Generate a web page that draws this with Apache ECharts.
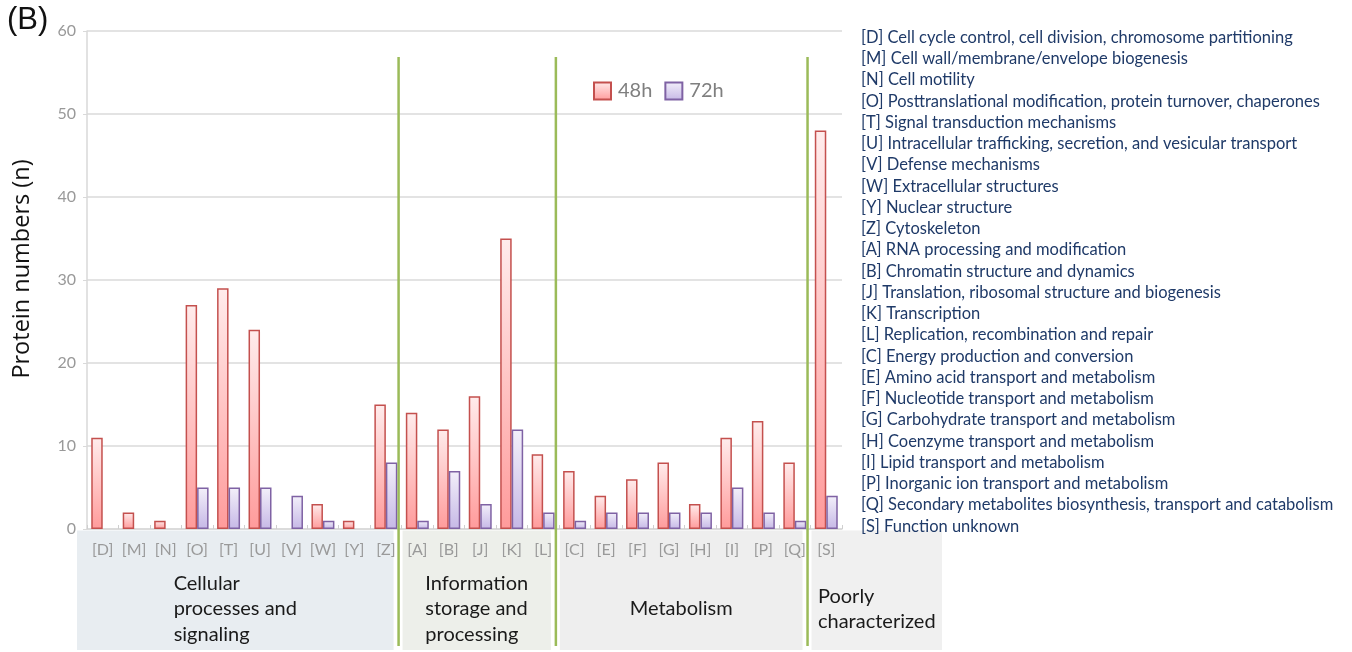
<!DOCTYPE html>
<html>
<head>
<meta charset="utf-8">
<script src="https://cdn.jsdelivr.net/npm/echarts@6/dist/echarts.min.js"></script>
<style>html,body{margin:0;padding:0;background:#fff;}#c{width:1352px;height:652px;}</style>
</head>
<body>
<div id="c"></div>
<script>
// ---- data ----
const categories = ['[D]','[M]','[N]','[O]','[T]','[U]','[V]','[W]','[Y]','[Z]','[A]','[B]','[J]','[K]','[L]','[C]','[E]','[F]','[G]','[H]','[I]','[P]','[Q]','[S]'];
const values48h = [11,2,1,27,29,24,0,3,1,15,14,12,16,35,9,7,4,6,8,3,11,13,8,48];
const values72h = [0,0,0,5,5,5,4,1,0,8,1,7,3,12,2,1,2,2,2,2,5,2,1,4];
const seriesNames = ['48h','72h'];
const yAxisTitle = 'Protein numbers (n)';
const descriptions = [
  '[D] Cell cycle control, cell division, chromosome partitioning',
  '[M] Cell wall/membrane/envelope biogenesis',
  '[N] Cell motility',
  '[O] Posttranslational modification, protein turnover, chaperones',
  '[T] Signal transduction mechanisms',
  '[U] Intracellular trafficking, secretion, and vesicular transport',
  '[V] Defense mechanisms',
  '[W] Extracellular structures',
  '[Y] Nuclear structure',
  '[Z] Cytoskeleton',
  '[A] RNA processing and modification',
  '[B] Chromatin structure and dynamics',
  '[J] Translation, ribosomal structure and biogenesis',
  '[K] Transcription',
  '[L] Replication, recombination and repair',
  '[C] Energy production and conversion',
  '[E] Amino acid transport and metabolism',
  '[F] Nucleotide transport and metabolism',
  '[G] Carbohydrate transport and metabolism',
  '[H] Coenzyme transport and metabolism',
  '[I] Lipid transport and metabolism',
  '[P] Inorganic ion transport and metabolism',
  '[Q] Secondary metabolites biosynthesis, transport and catabolism',
  '[S] Function unknown'
];
const groupNames = [['Cellular','processes and','signaling'],['Information','storage and','processing'],['Metabolism'],['Poorly','characterized']];
const groupStarts = [0,10,15,23];
const groupColors = ['#e8edf1','#edefea','#eeeeee','#f0f0f0'];
const yTicks = [0,10,20,30,40,50,60];

const FONT = 'Lato, "Open Sans", sans-serif';
const chart = echarts.init(document.getElementById('c'));

function grad(c0, c1) {
  return new echarts.graphic.LinearGradient(0,0,0,1,[{offset:0,color:c0},{offset:1,color:c1}]);
}
const hideZero = arr => arr.map(v => v === 0 ? null : v);

chart.setOption({
  animation: false,
  title: [
    {text:'(B)', left:7, top:5, padding:0, textStyle:{fontFamily:'"Liberation Sans", Arial, sans-serif', fontSize:31, fontWeight:'normal', color:'#111'}},
    {text: descriptions.join('\n'), left:861, top:27, padding:0,
     textStyle:{fontFamily:FONT, fontSize:16.5, fontWeight:'normal', color:'#1f3a68', lineHeight:21.25}}
  ],
  legend: {
    left:593, top:81, padding:0, itemWidth:17, itemHeight:17, itemGap:12, icon:'rect',
    data: seriesNames,
    textStyle:{fontFamily:FONT, fontSize:20, color:'#7f7f7f', padding:[0,0,0,2]}
  },
  grid: {left:87, right:510, top:31, bottom:123, containLabel:false, outerBoundsMode:'none'},
  xAxis: {
    type:'category', data:categories,
    axisLine:{lineStyle:{color:'#d9d9d9', width:1.5}},
    axisTick:{show:true, inside:true, length:4, lineStyle:{color:'#cfcfcf'}},
    axisLabel:{fontFamily:FONT, fontSize:16, color:'#9a9a9a', margin:13, interval:0}
  },
  yAxis: {
    type:'value', min:yTicks[0], max:yTicks[yTicks.length-1], interval:yTicks[1]-yTicks[0],
    axisLine:{show:true, lineStyle:{color:'#d9d9d9', width:1.5}},
    axisTick:{show:true, length:4, lineStyle:{color:'#d9d9d9'}},
    splitLine:{lineStyle:{color:'#dadada', width:1.6}},
    axisLabel:{fontFamily:FONT, fontSize:16, color:'#999', margin:11}
  },
  series: [
    {name:seriesNames[0], type:'bar', data:hideZero(values48h), barGap:'0%', barCategoryGap:'27%',
     itemStyle:{color:grad('#ffecec','#ff9b9b'), borderColor:'#c4504e', borderWidth:1.5}},
    {name:seriesNames[1], type:'bar', data:hideZero(values72h),
     itemStyle:{color:grad('#f3f0fa','#c6b8e6'), borderColor:'#7f62a4', borderWidth:1.5}}
  ]
});

// ---- decorations from axis scale ----
const centers = categories.map((c,i)=>chart.convertToPixel({xAxisIndex:0}, i));
const band = centers[1]-centers[0];
function boundary(i){ return i===0 ? centers[0]-band/2 : (i>=categories.length ? centers[categories.length-1]+band/2 : (centers[i-1]+centers[i])/2); }
const y0 = chart.convertToPixel({yAxisIndex:0}, 0);
const yTop = chart.convertToPixel({yAxisIndex:0}, yTicks[yTicks.length-1]);
const ctx = document.createElement('canvas').getContext('2d');
ctx.font = '20px ' + FONT;

const graphics = [];
graphics.push({type:'text', z:20, x:22, y:(y0+yTop)/2 - 11, rotation:Math.PI/2,
  style:{text:yAxisTitle, fontFamily:'"Open Sans", sans-serif', fontSize:23.5, fill:'#111', align:'center', verticalAlign:'middle'}});
const lineX = [];
for (let g=1; g<groupStarts.length; g++) lineX.push(boundary(groupStarts[g]) - 3);
const boxLeft = [boundary(0)-10].concat(lineX.map(x=>x+4));
const boxRight = lineX.map(x=>x-5).concat([boundary(categories.length)+100]);
for (let g=0; g<groupStarts.length; g++) {
  graphics.push({type:'rect', z:-10, shape:{x:boxLeft[g], y:y0+1.5, width:boxRight[g]-boxLeft[g], height:650-(y0+1.5)}, style:{fill:groupColors[g]}});
  const lines = groupNames[g];
  const w = Math.max(...lines.map(l=>ctx.measureText(l).width));
  const cx = (boxLeft[g]+boxRight[g])/2;
  graphics.push({type:'text', z:20, x:cx - w/2, y:609, style:{text:lines.join('\n'), fontFamily:FONT, fontSize:20, lineHeight:25.5, fill:'#1a1a1a', align:'left', verticalAlign:'middle'}});
}
lineX.forEach(x=>{
  graphics.push({type:'line', z:30, shape:{x1:x, y1:57, x2:x, y2:646}, style:{stroke:'#9bbb59', lineWidth:2.5}});
});
chart.setOption({graphic: graphics});
</script>
</body>
</html>
